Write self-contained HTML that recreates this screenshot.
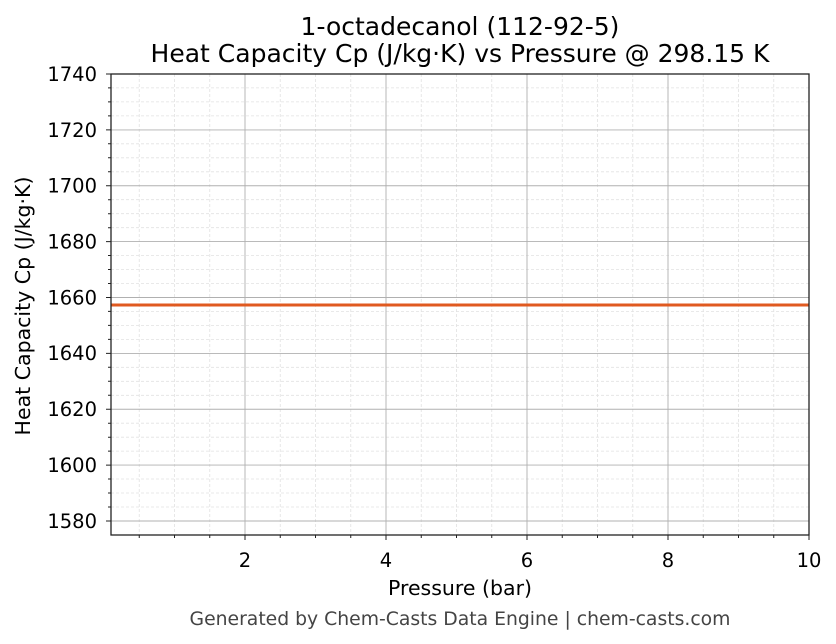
<!DOCTYPE html>
<html><head><meta charset="utf-8"><style>
body{margin:0;background:#fff;}
svg{display:block;font-family:"DejaVu Sans","Liberation Sans",sans-serif;}
</style></head><body>
<svg width="836" height="644" xmlns="http://www.w3.org/2000/svg">
<rect width="836" height="644" fill="#fff"/>
<g stroke="#e2e2e2" stroke-width="0.8" stroke-dasharray="3,2">
<path d="M139.25 74V535M174.5 74V535M209.75 74V535M280.25 74V535M315.5 74V535M350.75 74V535M421.25 74V535M456.5 74V535M491.75 74V535M562.25 74V535M597.5 74V535M632.75 74V535M703.25 74V535M738.5 74V535M773.75 74V535"/>
<path d="M111 507H809M111 493H809M111 479H809M111 451.1H809M111 437.2H809M111 423.2H809M111 395.3H809M111 381.3H809M111 367.3H809M111 339.4H809M111 325.4H809M111 311.4H809M111 283.5H809M111 269.5H809M111 255.5H809M111 227.7H809M111 213.7H809M111 199.7H809M111 171.8H809M111 157.8H809M111 143.8H809M111 115.9H809M111 101.9H809M111 87.9H809"/>
</g>
<g stroke="#b0b0b0" stroke-width="0.9">
<path d="M245 74V535M386 74V535M527 74V535M668 74V535"/>
<path d="M111 521H809M111 465.1H809M111 409.25H809M111 353.4H809M111 297.5H809M111 241.6H809M111 185.75H809M111 129.9H809"/>
</g>
<line x1="111" y1="305" x2="809" y2="305" stroke="#e05a20" stroke-width="3"/>
<rect x="111" y="74" width="698" height="461" fill="none" stroke="#222" stroke-width="1.3"/>
<g stroke="#222" stroke-width="1">
<path d="M245 535v5M386 535v5M527 535v5M668 535v5M809 535v5"/>
<path d="M139.25 535v3M174.5 535v3M209.75 535v3M280.25 535v3M315.5 535v3M350.75 535v3M421.25 535v3M456.5 535v3M491.75 535v3M562.25 535v3M597.5 535v3M632.75 535v3M703.25 535v3M738.5 535v3M773.75 535v3"/>
<path d="M111 521h-5M111 465.1h-5M111 409.25h-5M111 353.4h-5M111 297.5h-5M111 241.6h-5M111 185.75h-5M111 129.9h-5M111 74h-5"/>
<path d="M111 507h-3M111 493h-3M111 479h-3M111 451.1h-3M111 437.2h-3M111 423.2h-3M111 395.3h-3M111 381.3h-3M111 367.3h-3M111 339.4h-3M111 325.4h-3M111 311.4h-3M111 283.5h-3M111 269.5h-3M111 255.5h-3M111 227.7h-3M111 213.7h-3M111 199.7h-3M111 171.8h-3M111 157.8h-3M111 143.8h-3M111 115.9h-3M111 101.9h-3M111 87.9h-3"/>
</g>
<g font-size="19.5" fill="#000" text-anchor="middle">
<text x="245" y="567">2</text><text x="386" y="567">4</text><text x="527" y="567">6</text><text x="668" y="567">8</text><text x="809" y="567">10</text>
</g>
<g font-size="19.5" fill="#000" text-anchor="end">
<text x="97" y="528">1580</text><text x="97" y="472">1600</text><text x="97" y="416">1620</text><text x="97" y="360">1640</text><text x="97" y="304.5">1660</text><text x="97" y="248.5">1680</text><text x="97" y="192.5">1700</text><text x="97" y="137">1720</text><text x="97" y="81">1740</text>
</g>
<text x="460" y="595" font-size="20.5" text-anchor="middle">Pressure (bar)</text>
<text transform="translate(30,306) rotate(-90)" font-size="20.5" text-anchor="middle">Heat Capacity Cp (J/kg·K)</text>
<text x="460" y="35" font-size="25" text-anchor="middle">1-octadecanol (112-92-5)</text>
<text x="460" y="62" font-size="25" text-anchor="middle">Heat Capacity Cp (J/kg·K) vs Pressure @ 298.15 K</text>
<text x="460" y="625" font-size="18.8" fill="#444" text-anchor="middle">Generated by Chem-Casts Data Engine | chem-casts.com</text>
</svg>
</body></html>
